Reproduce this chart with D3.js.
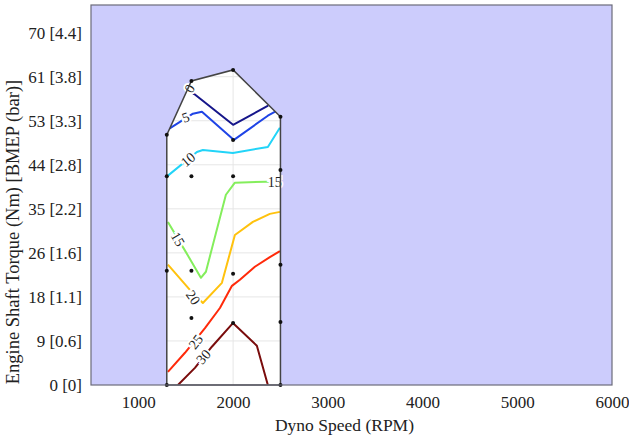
<!DOCTYPE html>
<html>
<head>
<meta charset="utf-8">
<script src="https://cdn.jsdelivr.net/npm/d3@7"></script>
<style>
  body { margin: 0; background: #fff; }
  text { font-family: "Liberation Serif", "Times New Roman", serif; }
</style>
</head>
<body>
<svg id="chart"></svg>
<script>
// Test points [rpm, torque Nm]
const points = [
  [1300, 49.7], [1300, 41.5], [1300, 22.7], [1300, 0],
  [1560, 60.4], [1560, 41.5], [1560, 22.7], [1560, 13.3],
  [2000, 62.6], [2000, 48.7], [2000, 41.5], [2000, 22.1], [2000, 12.3],
  [2500, 53.3], [2500, 42.7], [2500, 23.9], [2500, 12.5], [2500, 0]
];

const yTicks = [0, 8.75, 17.5, 26.25, 35, 43.75, 52.5, 61.25, 70];
const yTickLabels = ["0 [0]", "9 [0.6]", "18 [1.1]", "26 [1.6]", "35 [2.2]", "44 [2.8]", "53 [3.3]", "61 [3.8]", "70 [4.4]"];
const xTicks = [1000, 2000, 3000, 4000, 5000, 6000];

const levels = [0, 5, 10, 15, 20, 25, 30];
const levelColors = ["#16168a", "#1f44e6", "#22d4f8", "#84ee5c", "#ffc20e", "#ff2a0a", "#7a0c0c"];

// contour lines [rpm, torque]
const contour0 = [[1530, 58.6], [1590, 57.8], [2000, 51.7], [2370, 55.5]];
const contour5 = [[1323, 50.9], [1576, 53.9], [1671, 54.3], [2009, 48.7], [2367, 53.5], [2483, 54.7]];
const contour10 = [[1312, 41.6], [1618, 46.3], [1681, 46.7], [1998, 46.1], [2367, 47.3], [2494, 51.1]];
const contour15 = [[1312, 32.4], [1502, 26.4], [1660, 21.3], [1713, 22.5], [1924, 37.8], [2019, 40.2], [2346, 40.4], [2470, 40.4]];
const contour20 = [[1312, 23.9], [1544, 18.9], [1681, 16.3], [1882, 20.3], [2019, 29.8], [2209, 32.4], [2388, 34.0], [2494, 34.4]];
const contour25 = [[1312, 2.6], [1492, 6.4], [1703, 11.3], [1861, 15.3], [1988, 19.7], [2072, 20.9], [2230, 23.5], [2388, 25.4], [2494, 26.6]];
const contour30 = [[1418, 0], [1597, 3.4], [1776, 7.6], [1998, 12.3], [2251, 7.8], [2367, 0]];
const contours = [contour0, contour5, contour10, contour15, contour20, contour25, contour30];

// inline labels [text, rpm, torque, angle]
const labels = [
  ["0", 1540, 58.9, -60], ["5", 1500, 53.2, -20], ["10", 1523, 44.8, -40],
  ["15", 1418, 29.0, 60], ["15", 2440, 40.3, 0], ["20", 1580, 17.4, 55],
  ["25", 1605, 8.6, -52], ["30", 1685, 5.6, -48]
];

const width = 629, height = 438;
const margin = {top: 5, right: 17, bottom: 53, left: 91};

const svg = d3.select("#chart").attr("width", width).attr("height", height);

const x = d3.scaleLinear().domain([500, 6000]).range([margin.left, width - margin.right]);
const y = d3.scaleLinear().domain([0, 75.5]).range([height - margin.bottom, margin.top]);

// plot background
svg.append("rect")
  .attr("x", margin.left).attr("y", margin.top)
  .attr("width", width - margin.left - margin.right)
  .attr("height", height - margin.top - margin.bottom)
  .attr("fill", "#ccccfc");

// hull of the test points
const hull = d3.polygonHull(points.map(p => [x(p[0]), y(p[1])]));

svg.append("clipPath").attr("id", "hullClip")
  .append("path").attr("d", "M" + hull.join("L") + "Z");

svg.append("path")
  .attr("d", "M" + hull.join("L") + "Z")
  .attr("fill", "#fff");

// grid visible only inside hull
const grid = svg.append("g").attr("clip-path", "url(#hullClip)");
grid.selectAll("line.gy").data(yTicks).enter().append("line")
  .attr("x1", margin.left).attr("x2", width - margin.right)
  .attr("y1", d => y(d)).attr("y2", d => y(d))
  .attr("stroke", "#e6e6e6").attr("stroke-width", 1);
grid.selectAll("line.gx").data(xTicks).enter().append("line")
  .attr("y1", margin.top).attr("y2", height - margin.bottom)
  .attr("x1", d => x(d)).attr("x2", d => x(d))
  .attr("stroke", "#e6e6e6").attr("stroke-width", 1);

// contour lines
const line = d3.line().x(d => x(d[0])).y(d => y(d[1]));
svg.append("g").attr("clip-path", "url(#hullClip)")
  .selectAll("path")
  .data(contours)
  .enter()
  .append("path")
  .attr("d", line)
  .attr("fill", "none")
  .attr("stroke", (d, i) => levelColors[i])
  .attr("stroke-width", 2)
  .attr("stroke-linejoin", "round");

// contour labels, white halo makes the gap
svg.append("g").selectAll("text")
  .data(labels)
  .enter()
  .append("text")
  .attr("transform", d => "translate(" + x(d[1]) + "," + y(d[2]) + ") rotate(" + d[3] + ")")
  .attr("text-anchor", "middle")
  .attr("dy", "0.35em")
  .style("font-size", "14px")
  .style("paint-order", "stroke")
  .attr("stroke", "#fff").attr("stroke-width", 4)
  .attr("fill", "#222")
  .text(d => d[0]);

// hull outline and points
svg.append("path")
  .attr("d", "M" + hull.join("L") + "Z")
  .attr("fill", "none")
  .attr("stroke", "#444")
  .attr("stroke-width", 1.5);

svg.append("g").selectAll("circle")
  .data(points)
  .enter()
  .append("circle")
  .attr("cx", d => x(d[0])).attr("cy", d => y(d[1]))
  .attr("r", 2)
  .attr("fill", "#111");

// frame
svg.append("rect")
  .attr("x", margin.left).attr("y", margin.top)
  .attr("width", width - margin.left - margin.right)
  .attr("height", height - margin.top - margin.bottom)
  .attr("fill", "none")
  .attr("stroke", "#6b6b7a")
  .attr("stroke-width", 1.2);

// axes
const xAxis = svg.append("g")
  .attr("transform", "translate(0," + (height - margin.bottom) + ")")
  .call(d3.axisBottom(x).tickValues(xTicks).tickSize(0).tickPadding(11).tickFormat(d3.format("d")));
xAxis.select(".domain").remove();
xAxis.selectAll("text").style("font-size", "17px").attr("fill", "#222");

const yAxis = svg.append("g")
  .attr("transform", "translate(" + margin.left + ",0)")
  .call(d3.axisLeft(y).tickValues(yTicks).tickSize(0).tickPadding(9).tickFormat((d, i) => yTickLabels[i]));
yAxis.select(".domain").remove();
yAxis.selectAll("text").style("font-size", "17px").attr("fill", "#222");

svg.append("text")
  .attr("x", (margin.left + width - margin.right) / 2 - 7)
  .attr("y", 431)
  .attr("text-anchor", "middle")
  .style("font-size", "17.5px")
  .attr("fill", "#222")
  .text("Dyno Speed (RPM)");

svg.append("text")
  .attr("transform", "translate(19," + 232 + ") rotate(-90)")
  .attr("text-anchor", "middle")
  .style("font-size", "18.5px")
  .attr("fill", "#222")
  .text("Engine Shaft Torque (Nm) [BMEP (bar)]");
</script>
</body>
</html>
